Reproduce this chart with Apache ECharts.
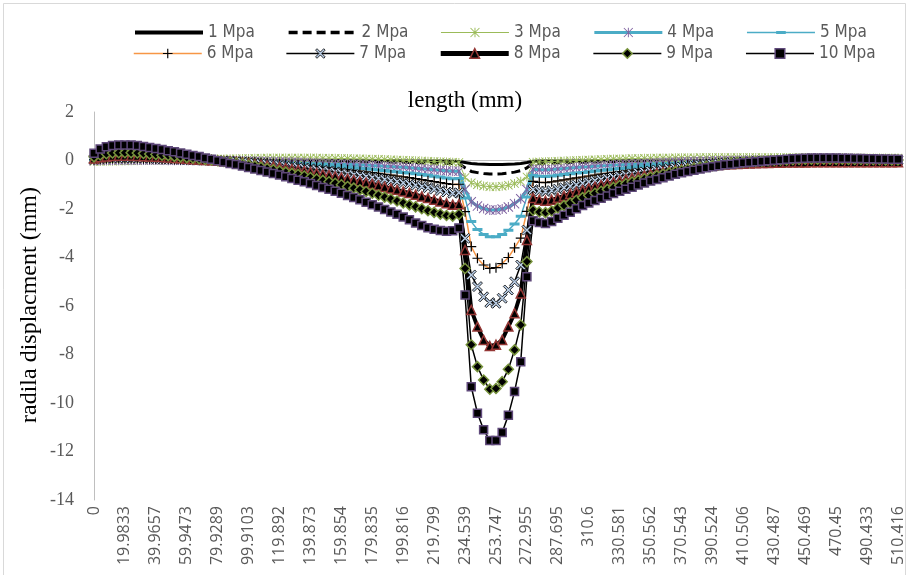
<!DOCTYPE html>
<html>
<head>
<meta charset="utf-8">
<script src="https://cdn.jsdelivr.net/npm/echarts@6/dist/echarts.min.js"></script>
<style>
html, body { margin: 0; padding: 0; background: #fff; }
#chart { width: 909px; height: 575px; }
</style>
</head>
<body>
<div id="chart"></div>
<script>
// length positions (mm), one per node
const categories = [
	'0', '3.9967', '7.9933', '11.99', '15.9867', '19.9833', '23.98', '27.977', '31.973', '35.97',
	'39.9657', '43.962', '47.959', '51.955', '55.951', '59.9473', '63.944', '67.94', '71.936', '75.933',
	'79.9289', '83.925', '87.922', '91.918', '95.914', '99.9103', '103.907', '107.903', '111.899', '115.896',
	'119.892', '123.888', '127.884', '131.881', '135.877', '139.873', '143.869', '147.866', '151.862', '155.858',
	'159.854', '163.85', '167.847', '171.843', '175.839', '179.835', '183.831', '187.828', '191.824', '195.82',
	'199.816', '203.813', '207.81', '211.806', '215.803', '219.799', '222.747', '225.695', '228.643', '231.591',
	'234.539', '238.381', '242.222', '246.064', '249.906', '253.747', '257.589', '261.431', '265.272', '269.114',
	'272.955', '275.903', '278.851', '281.799', '284.747', '287.695', '292.276', '296.857', '301.438', '306.019',
	'310.6', '314.596', '318.592', '322.589', '326.585', '330.581', '334.577', '338.573', '342.569', '346.566',
	'350.562', '354.558', '358.554', '362.55', '366.547', '370.543', '374.539', '378.535', '382.532', '386.528',
	'390.524', '394.52', '398.517', '402.513', '406.509', '410.506', '414.502', '418.498', '422.494', '426.491',
	'430.487', '434.483', '438.48', '442.476', '446.472', '450.469', '454.465', '458.461', '462.457', '466.454',
	'470.45', '474.447', '478.443', '482.44', '486.436', '490.433', '494.429', '498.426', '502.422', '506.419',
	'510.416'
];

const seriesNames = ['1 Mpa', '2 Mpa', '3 Mpa', '4 Mpa', '5 Mpa', '6 Mpa', '7 Mpa', '8 Mpa', '9 Mpa', '10 Mpa'];

// radial displacement (mm) per pressure
const disp1 = [
	0, 0, 0, 0, 0, 0, 0, 0, 0, 0,
	0, 0, 0, 0, 0, 0, 0, 0, 0, 0,
	0, 0, 0, 0, 0, 0, 0, 0, 0, 0,
	0, 0, 0, 0, 0, 0, 0, 0, 0, 0,
	-0.01, -0.01, -0.01, -0.01, -0.01, -0.01, -0.01, -0.01, -0.01, -0.01,
	-0.02, -0.02, -0.02, -0.02, -0.02, -0.02, -0.02, -0.02, -0.03, -0.04,
	-0.08, -0.12, -0.14, -0.15, -0.16, -0.16, -0.16, -0.15, -0.14, -0.12, -0.08,
	-0.03, -0.02, -0.02, -0.02, -0.02, -0.02, -0.02, -0.02, -0.02, -0.02,
	-0.01, -0.01, -0.01, -0.01, -0.01, -0.01, -0.01, -0.01, -0.01, -0.01,
	-0.01, -0.01, -0.01, -0.01, -0.01, -0.01, -0.01, -0.01, -0.01, -0.01,
	0, 0, 0, 0, 0, 0, 0, 0, 0, 0,
	0, 0, 0, 0, 0, 0, 0, 0, 0, 0,
	0, 0, 0, 0, 0, 0, 0, 0, 0, 0
];
const disp2 = [
	0.01, 0.01, 0.01, 0.01, 0.01, 0.01, 0.01, 0.01, 0.01, 0.01,
	0.01, 0.01, 0.01, 0.01, 0.01, 0.01, 0.01, 0.01, 0.01, 0.01,
	0, 0, 0, 0, -0.01, -0.01, -0.01, -0.01, -0.01, -0.01,
	-0.02, -0.02, -0.02, -0.02, -0.02, -0.02, -0.03, -0.03, -0.03, -0.03,
	-0.04, -0.04, -0.04, -0.05, -0.05, -0.05, -0.06, -0.06, -0.06, -0.07,
	-0.07, -0.08, -0.08, -0.09, -0.09, -0.10, -0.10, -0.11, -0.12, -0.13,
	-0.30, -0.45, -0.50, -0.54, -0.56, -0.56, -0.55, -0.52, -0.48, -0.42, -0.30,
	-0.12, -0.11, -0.10, -0.10, -0.09, -0.08, -0.08, -0.07, -0.07, -0.06,
	-0.06, -0.05, -0.05, -0.04, -0.04, -0.04, -0.03, -0.03, -0.03, -0.02,
	-0.02, -0.02, -0.02, -0.02, -0.02, -0.02, -0.02, -0.02, -0.02, -0.02,
	-0.01, -0.01, -0.01, -0.01, -0.01, -0.01, -0.01, -0.01, -0.01, -0.01,
	0, 0, 0, 0, 0, 0, 0, 0, 0, 0,
	0, 0, 0, 0, 0, 0, 0, 0, 0, 0
];
const disp3 = [
	-0.04, -0.04, -0.03, -0.03, -0.02, -0.02, -0.01, -0.01, 0, 0,
	0.01, 0.01, 0.02, 0.02, 0.03, 0.03, 0.04, 0.04, 0.05, 0.05,
	0.06, 0.06, 0.07, 0.07, 0.08, 0.08, 0.09, 0.09, 0.10, 0.10,
	0.10, 0.10, 0.10, 0.10, 0.10, 0.10, 0.10, 0.09, 0.09, 0.09,
	0.08, 0.08, 0.07, 0.07, 0.06, 0.05, 0.05, 0.04, 0.03, 0.02,
	0.01, 0, -0.01, -0.02, -0.03, -0.04, -0.05, -0.06, -0.07, -0.08,
	-0.70, -0.92, -1.00, -1.05, -1.08, -1.08, -1.06, -1.02, -0.95, -0.86, -0.68,
	-0.07, -0.06, -0.05, -0.04, -0.03, -0.02, -0.01, 0, 0.01, 0.02,
	0.03, 0.04, 0.05, 0.06, 0.06, 0.07, 0.08, 0.08, 0.09, 0.09,
	0.10, 0.10, 0.10, 0.11, 0.11, 0.11, 0.11, 0.12, 0.12, 0.12,
	0.12, 0.12, 0.12, 0.12, 0.12, 0.12, 0.12, 0.12, 0.12, 0.12,
	0.12, 0.12, 0.12, 0.12, 0.12, 0.11, 0.11, 0.11, 0.11, 0.11,
	0.11, 0.10, 0.10, 0.10, 0.10, 0.10, 0.10, 0.10, 0.10, 0.10
];
const disp4 = [
	0, 0.01, 0.02, 0.02, 0.02, 0.02, 0.02, 0.02, 0.02, 0.02,
	0.02, 0.02, 0.01, 0.01, 0.01, 0.01, 0, 0, 0, 0,
	-0.01, -0.01, -0.01, -0.02, -0.02, -0.03, -0.03, -0.04, -0.04, -0.05,
	-0.06, -0.06, -0.07, -0.08, -0.09, -0.10, -0.11, -0.12, -0.13, -0.14,
	-0.15, -0.16, -0.17, -0.18, -0.19, -0.21, -0.22, -0.24, -0.25, -0.27,
	-0.28, -0.30, -0.32, -0.34, -0.36, -0.38, -0.40, -0.42, -0.44, -0.44,
	-1.20, -1.70, -1.88, -1.98, -2.04, -2.04, -2.00, -1.92, -1.78, -1.58, -1.20,
	-0.36, -0.38, -0.38, -0.37, -0.35, -0.33, -0.31, -0.29, -0.27, -0.26,
	-0.24, -0.22, -0.21, -0.19, -0.18, -0.16, -0.15, -0.14, -0.12, -0.11,
	-0.10, -0.09, -0.08, -0.07, -0.06, -0.05, -0.04, -0.04, -0.03, -0.02,
	-0.02, -0.01, -0.01, 0, 0, 0.01, 0.01, 0.01, 0.02, 0.02,
	0.02, 0.02, 0.02, 0.02, 0.02, 0.02, 0.02, 0.02, 0.02, 0.02,
	0.02, 0.02, 0.02, 0.02, 0.02, 0.02, 0.02, 0.02, 0.02, 0.02
];
const disp5 = [
	0.02, 0.03, 0.04, 0.05, 0.05, 0.05, 0.05, 0.05, 0.05, 0.04,
	0.04, 0.03, 0.03, 0.02, 0.02, 0.01, 0.01, 0, 0, -0.01,
	-0.01, -0.02, -0.02, -0.03, -0.04, -0.05, -0.06, -0.07, -0.08, -0.09,
	-0.10, -0.11, -0.12, -0.14, -0.15, -0.17, -0.18, -0.20, -0.22, -0.24,
	-0.26, -0.28, -0.30, -0.32, -0.34, -0.36, -0.39, -0.41, -0.44, -0.46,
	-0.49, -0.52, -0.55, -0.58, -0.61, -0.65, -0.68, -0.72, -0.75, -0.74,
	-1.55, -2.52, -2.85, -3.05, -3.14, -3.14, -3.05, -2.88, -2.62, -2.30, -1.50,
	-0.62, -0.65, -0.66, -0.64, -0.61, -0.58, -0.55, -0.52, -0.49, -0.46,
	-0.43, -0.40, -0.38, -0.35, -0.33, -0.31, -0.28, -0.26, -0.24, -0.22,
	-0.20, -0.18, -0.17, -0.15, -0.14, -0.12, -0.11, -0.10, -0.09, -0.08,
	-0.07, -0.06, -0.05, -0.05, -0.04, -0.03, -0.03, -0.02, -0.02, -0.01,
	-0.01, 0, 0, 0, 0, 0, 0, 0, 0, 0,
	0, 0, 0, 0, 0, 0, 0, 0, 0, 0
];
const disp6 = [
	0.03, 0.05, 0.07, 0.08, 0.08, 0.08, 0.08, 0.08, 0.07, 0.07,
	0.06, 0.05, 0.05, 0.04, 0.03, 0.03, 0.02, 0.01, 0.01, 0,
	-0.01, -0.02, -0.03, -0.04, -0.05, -0.06, -0.07, -0.09, -0.10, -0.12,
	-0.13, -0.15, -0.17, -0.19, -0.21, -0.23, -0.25, -0.28, -0.30, -0.33,
	-0.35, -0.38, -0.41, -0.44, -0.47, -0.50, -0.53, -0.57, -0.60, -0.64,
	-0.67, -0.71, -0.75, -0.79, -0.83, -0.87, -0.91, -0.95, -0.99, -0.98,
	-2.11, -3.55, -4.03, -4.31, -4.45, -4.42, -4.25, -4.00, -3.60, -3.20, -2.10,
	-0.86, -0.90, -0.91, -0.88, -0.84, -0.80, -0.76, -0.72, -0.68, -0.64,
	-0.60, -0.56, -0.53, -0.49, -0.46, -0.43, -0.40, -0.37, -0.34, -0.31,
	-0.29, -0.26, -0.24, -0.22, -0.20, -0.18, -0.16, -0.14, -0.13, -0.11,
	-0.10, -0.09, -0.08, -0.07, -0.06, -0.05, -0.04, -0.03, -0.02, -0.02,
	-0.01, 0, 0, 0, 0.01, 0.01, 0.01, 0.01, 0.01, 0.01,
	0.01, 0.01, 0.01, 0.01, 0.01, 0.01, 0.01, 0.01, 0.01, 0.01
];
const disp7 = [
	0.05, 0.08, 0.10, 0.12, 0.12, 0.12, 0.12, 0.12, 0.11, 0.10,
	0.09, 0.08, 0.07, 0.06, 0.05, 0.04, 0.03, 0.02, 0.01, 0,
	-0.01, -0.02, -0.04, -0.05, -0.07, -0.09, -0.11, -0.13, -0.15, -0.17,
	-0.20, -0.22, -0.25, -0.28, -0.31, -0.34, -0.37, -0.40, -0.43, -0.47,
	-0.50, -0.54, -0.58, -0.62, -0.66, -0.70, -0.74, -0.78, -0.83, -0.87,
	-0.92, -0.97, -1.02, -1.07, -1.12, -1.18, -1.24, -1.30, -1.35, -1.33,
	-3.21, -4.72, -5.20, -5.62, -5.86, -5.89, -5.68, -5.34, -5.00, -4.31, -2.87,
	-1.20, -1.26, -1.28, -1.24, -1.18, -1.12, -1.06, -1.00, -0.94, -0.88,
	-0.83, -0.78, -0.73, -0.68, -0.63, -0.59, -0.55, -0.51, -0.47, -0.43,
	-0.39, -0.36, -0.33, -0.30, -0.27, -0.24, -0.21, -0.19, -0.17, -0.15,
	-0.13, -0.11, -0.09, -0.08, -0.06, -0.05, -0.04, -0.03, -0.02, -0.01,
	0, 0, 0.01, 0.01, 0.01, 0.02, 0.02, 0.02, 0.02, 0.02,
	0.02, 0.02, 0.02, 0.02, 0.02, 0.02, 0.01, 0.01, 0.01, 0.01
];
const disp8 = [
	0.08, 0.13, 0.17, 0.19, 0.20, 0.20, 0.20, 0.19, 0.18, 0.17,
	0.15, 0.14, 0.12, 0.10, 0.09, 0.07, 0.05, 0.04, 0.02, 0.01,
	-0.01, -0.03, -0.05, -0.07, -0.10, -0.12, -0.15, -0.18, -0.21, -0.24,
	-0.27, -0.31, -0.35, -0.39, -0.43, -0.47, -0.51, -0.56, -0.60, -0.65,
	-0.70, -0.75, -0.80, -0.86, -0.91, -0.97, -1.03, -1.09, -1.15, -1.21,
	-1.28, -1.34, -1.41, -1.48, -1.55, -1.62, -1.69, -1.76, -1.82, -1.80,
	-3.69, -6.16, -6.85, -7.40, -7.65, -7.60, -7.40, -6.85, -6.30, -5.48, -3.28,
	-1.55, -1.62, -1.66, -1.62, -1.54, -1.46, -1.38, -1.30, -1.22, -1.15,
	-1.08, -1.01, -0.95, -0.89, -0.83, -0.77, -0.72, -0.66, -0.61, -0.56,
	-0.51, -0.47, -0.43, -0.39, -0.35, -0.32, -0.29, -0.26, -0.23, -0.21,
	-0.19, -0.17, -0.15, -0.14, -0.13, -0.12, -0.11, -0.10, -0.10, -0.09,
	-0.09, -0.08, -0.08, -0.08, -0.08, -0.07, -0.07, -0.07, -0.07, -0.07,
	-0.07, -0.07, -0.07, -0.07, -0.07, -0.07, -0.07, -0.07, -0.07, -0.07
];
const disp9 = [
	0.15, 0.23, 0.28, 0.31, 0.32, 0.32, 0.32, 0.31, 0.29, 0.27,
	0.25, 0.22, 0.20, 0.17, 0.15, 0.12, 0.10, 0.07, 0.04, 0.02,
	-0.01, -0.04, -0.07, -0.11, -0.15, -0.19, -0.23, -0.28, -0.33, -0.38,
	-0.43, -0.48, -0.53, -0.58, -0.64, -0.70, -0.76, -0.82, -0.88, -0.94,
	-1.00, -1.07, -1.14, -1.21, -1.28, -1.35, -1.43, -1.51, -1.59, -1.67,
	-1.75, -1.83, -1.91, -1.99, -2.07, -2.14, -2.21, -2.27, -2.30, -2.22,
	-4.45, -7.60, -8.50, -9.05, -9.43, -9.40, -9.12, -8.61, -7.81, -6.78, -4.17,
	-2.05, -2.12, -2.15, -2.08, -1.96, -1.86, -1.75, -1.64, -1.53, -1.44,
	-1.35, -1.27, -1.19, -1.11, -1.03, -0.96, -0.89, -0.82, -0.75, -0.69,
	-0.63, -0.57, -0.51, -0.46, -0.41, -0.36, -0.32, -0.28, -0.24, -0.21,
	-0.18, -0.15, -0.12, -0.10, -0.08, -0.06, -0.04, -0.03, -0.01, 0,
	0.01, 0.02, 0.03, 0.04, 0.05, 0.05, 0.05, 0.05, 0.05, 0.05,
	0.05, 0.04, 0.04, 0.04, 0.03, 0.03, 0.03, 0.02, 0.02, 0.02
];
const disp10 = [
	0.30, 0.47, 0.57, 0.62, 0.64, 0.64, 0.64, 0.62, 0.58, 0.54,
	0.50, 0.45, 0.40, 0.36, 0.31, 0.26, 0.21, 0.16, 0.10, 0.05,
	-0.01, -0.06, -0.12, -0.17, -0.23, -0.29, -0.35, -0.41, -0.47, -0.54,
	-0.60, -0.67, -0.74, -0.81, -0.88, -0.95, -1.03, -1.11, -1.19, -1.27,
	-1.35, -1.44, -1.53, -1.62, -1.72, -1.82, -1.92, -2.02, -2.12, -2.22,
	-2.33, -2.44, -2.58, -2.68, -2.77, -2.84, -2.89, -2.92, -2.90, -2.78,
	-5.55, -9.33, -10.42, -11.10, -11.55, -11.55, -11.22, -10.50, -9.53, -8.30, -4.79,
	-2.48, -2.56, -2.60, -2.52, -2.38, -2.26, -2.13, -1.99, -1.86, -1.75,
	-1.65, -1.56, -1.46, -1.36, -1.27, -1.19, -1.10, -1.01, -0.93, -0.85,
	-0.78, -0.71, -0.64, -0.57, -0.51, -0.45, -0.40, -0.35, -0.30, -0.26,
	-0.22, -0.18, -0.15, -0.12, -0.09, -0.07, -0.05, -0.03, -0.01, 0.01,
	0.03, 0.05, 0.07, 0.08, 0.09, 0.10, 0.10, 0.10, 0.10, 0.10,
	0.09, 0.09, 0.08, 0.08, 0.07, 0.07, 0.06, 0.06, 0.05, 0.05
];

const seriesValues = [disp1, disp2, disp3, disp4, disp5, disp6, disp7, disp8, disp9, disp10];

// excel-like marker shapes
const STAR = 'path://M9,0H11V20H9Z M0,1.4L1.4,0L20,18.6L18.6,20Z M18.6,0L20,1.4L1.4,20L0,18.6Z';
const CROSS_X = 'path://M0,3L3,0L10,7L17,0L20,3L13,10L20,17L17,20L10,13L3,20L0,17L7,10Z';
const PLUS = 'path://M8.8,0H11.2V8.8H20V11.2H11.2V20H8.8V11.2H0V8.8H8.8Z';
const DASH = 'path://M0,7H20V13H0Z M0,0h0.01v0.01h-0.01Z M19.99,19.99h0.01v0.01h-0.01Z';

const looks = [
	{ line: { color: '#000', width: 3 }, symbol: 'none', size: 0, item: { color: '#000' } },
	{ line: { color: '#000', width: 3, type: [9, 5] }, symbol: 'none', size: 0, item: { color: '#000' } },
	{ line: { color: '#9BBB59', width: 1 }, symbol: STAR, size: 9, item: { color: '#9BBB59', borderWidth: 0 } },
	{ line: { color: '#4BACC6', width: 3 }, symbol: STAR, size: 10, item: { color: '#8064A2', borderWidth: 0 } },
	{ line: { color: '#4BACC6', width: 1.5 }, symbol: DASH, size: 10, item: { color: '#4BACC6', borderWidth: 0 } },
	{ line: { color: '#F79646', width: 1.5 }, symbol: PLUS, size: 10, item: { color: '#000', borderWidth: 0 } },
	{ line: { color: '#000', width: 1.5 }, symbol: CROSS_X, size: 10, item: { color: '#B9CDE5', borderColor: '#000', borderWidth: 0.8 } },
	{ line: { color: '#000', width: 4 }, symbol: 'triangle', size: 9, item: { color: '#000', borderColor: '#953735', borderWidth: 1.5 } },
	{ line: { color: '#000', width: 1.5 }, symbol: 'diamond', size: 10, item: { color: '#000', borderColor: '#77933C', borderWidth: 1.5 } },
	{ line: { color: '#000', width: 1.5 }, symbol: 'rect', size: 8, item: { color: '#000', borderColor: '#5F497A', borderWidth: 1.5 } }
];

const seriesList = [];
seriesNames.forEach((name, i) => {
	const look = looks[i];
	seriesList.push({
		type: 'line',
		name: name,
		data: seriesValues[i],
		symbol: look.symbol,
		symbolSize: look.size,
		showSymbol: look.symbol !== 'none',
		showAllSymbol: true,
		lineStyle: look.line,
		itemStyle: look.item,
		emphasis: { disabled: true }
	});
});

const legendFont = '"Liberation Sans Narrow", "DejaVu Sans Condensed", "Liberation Sans", sans-serif';
const serifFont = '"Liberation Serif", "DejaVu Serif", serif';

// legend samples: the legend gets thicker strokes than the plot, like excel's
const legendLineWidth = [4, 3.5, 1, 3, 1.5, 1.5, 1.5, 5, 1.5, 1.5];

const legendItems = (from, to) => seriesNames.slice(from, to).map((n, k) => {
	const i = from + k;
	const look = looks[i];
	const line = Object.assign({}, look.line, { width: legendLineWidth[i] });
	if (look.symbol === 'none') {
		return {
			name: n,
			lineStyle: line,
			itemStyle: { color: 'rgba(0,0,0,0)', borderColor: 'rgba(0,0,0,0)', borderWidth: 0 }
		};
	}
	return {
		name: n,
		lineStyle: line,
		itemStyle: Object.assign({ borderColor: 'rgba(0,0,0,0)', borderWidth: 0 }, look.item)
	};
});

const legendBase = {
	left: 128,
	itemWidth: 68,
	itemHeight: 12,
	itemGap: 32,
	selectedMode: false,
	textStyle: { fontFamily: legendFont, fontSize: 17, color: '#595959', width: 55 }
};

const myChart = echarts.init(document.getElementById('chart'), null, { renderer: 'canvas' });

const option = {
	animation: false,
	backgroundColor: '#fff',
	grid: { left: 94, right: 11, top: 112, bottom: 75 },
	legend: [
		Object.assign({}, legendBase, { top: 19, data: legendItems(0, 5) }),
		Object.assign({}, legendBase, { top: 40, data: legendItems(5, 10) })
	],
	xAxis: [
		{
			type: 'category',
			data: categories,
			boundaryGap: false,
			axisLine: { show: false, onZero: false },
			axisTick: { show: false },
			splitLine: { show: false },
			axisLabel: {
				interval: 4,
				rotate: 90,
				margin: 6,
				fontFamily: '"Open Sans", "Liberation Sans", sans-serif',
				fontSize: 16,
				color: '#595959'
			}
		},
		{
			// zero line, drawn behind the curves like excel's axis
			type: 'category',
			data: categories,
			boundaryGap: false,
			position: 'top',
			axisLine: { show: true, onZero: true, lineStyle: { color: '#bfbfbf', width: 1 } },
			axisTick: { show: false },
			axisLabel: { show: false },
			splitLine: { show: false }
		}
	],
	yAxis: {
		type: 'value',
		min: -14,
		max: 2,
		interval: 2,
		axisLine: { show: true, onZero: false, lineStyle: { color: '#bfbfbf', width: 1 } },
		axisTick: { show: false },
		splitLine: { show: false },
		axisLabel: { margin: 20, fontFamily: serifFont, fontSize: 18, color: '#595959' }
	},
	graphic: [
		{
			type: 'rect',
			silent: true,
			z: -10,
			shape: { x: 3.5, y: 3.5, width: 902, height: 580 },
			style: { fill: 'none', stroke: '#d9d9d9', lineWidth: 1 }
		},
		{
			type: 'text',
			x: 465,
			y: 101,
			style: {
				text: 'length (mm)',
				fontFamily: serifFont,
				fontSize: 23,
				fill: '#000',
				textAlign: 'center',
				textVerticalAlign: 'middle',
				align: 'center',
				verticalAlign: 'middle'
			}
		},
		{
			type: 'text',
			x: 30,
			y: 305,
			rotation: Math.PI / 2,
			style: {
				text: 'radila displacment (mm)',
				fontFamily: serifFont,
				fontSize: 24,
				fill: '#000',
				textAlign: 'center',
				textVerticalAlign: 'middle',
				align: 'center',
				verticalAlign: 'middle'
			}
		}
	],
	series: seriesList
};

myChart.setOption(option);
</script>
</body>
</html>
